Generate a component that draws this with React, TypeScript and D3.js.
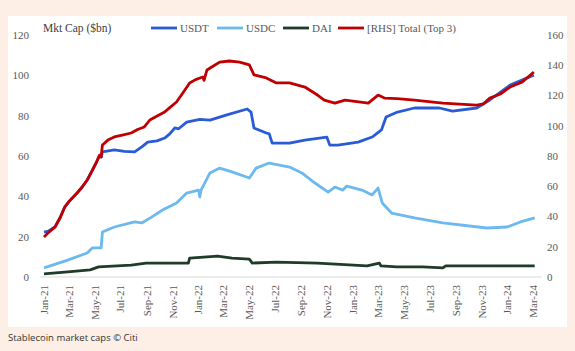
import React from "react";
import * as d3 from "d3";

type Pt = [string, number];

const usdt: Pt[] = [
  ["2021-01-01", 22.3], ["2021-01-12", 22.8], ["2021-01-27", 24.8], ["2021-02-08", 29.5],
  ["2021-02-19", 34.7], ["2021-03-01", 37.3], ["2021-03-20", 41.6], ["2021-04-01", 44.5],
  ["2021-04-13", 48.1], ["2021-04-25", 52.8], ["2021-05-04", 56.5], ["2021-05-12", 60],
  ["2021-05-16", 59.5], ["2021-05-19", 62.0], ["2021-06-16", 63.0], ["2021-07-10", 62.3],
  ["2021-08-03", 62.0], ["2021-08-20", 64.5], ["2021-09-03", 66.9], ["2021-09-25", 67.5],
  ["2021-10-13", 68.9], ["2021-10-25", 71], ["2021-11-06", 73.9], ["2021-11-15", 73.5],
  ["2021-12-04", 76.8], ["2022-01-04", 78.2], ["2022-01-28", 77.8], ["2022-03-07", 80.3],
  ["2022-04-26", 83.3], ["2022-05-05", 81.8], ["2022-05-12", 73.9], ["2022-06-10", 71.4],
  ["2022-06-17", 71.0], ["2022-06-24", 66.4], ["2022-08-04", 66.4], ["2022-09-09", 67.9],
  ["2022-10-31", 69.4], ["2022-11-07", 65.4], ["2022-11-26", 65.4], ["2023-01-13", 66.9],
  ["2023-02-15", 69.4], ["2023-03-09", 72.9], ["2023-03-20", 79.3], ["2023-04-16", 81.8],
  ["2023-05-26", 83.8], ["2023-07-24", 83.8], ["2023-08-24", 82.3], ["2023-10-20", 83.8],
  ["2023-11-20", 87.8], ["2024-01-07", 95.2], ["2024-03-03", 100.1],
];

const usdc: Pt[] = [
  ["2021-01-01", 4.5], ["2021-02-26", 8.4], ["2021-04-13", 11.9], ["2021-04-25", 14.4],
  ["2021-05-16", 14.4], ["2021-05-19", 22.3], ["2021-06-16", 24.8], ["2021-08-03", 27.3],
  ["2021-08-20", 26.8], ["2021-09-12", 29.7], ["2021-10-08", 33.2], ["2021-11-10", 36.7],
  ["2021-12-04", 41.6], ["2022-01-01", 43.1], ["2022-01-04", 39.7], ["2022-01-07", 43.1],
  ["2022-01-28", 51.6], ["2022-02-20", 54.0], ["2022-03-21", 52.1], ["2022-05-01", 49.1],
  ["2022-05-17", 54.0], ["2022-06-17", 56.5], ["2022-08-04", 54.5], ["2022-09-02", 51.6],
  ["2022-10-03", 46.6], ["2022-11-03", 42.1], ["2022-11-19", 44.6], ["2022-12-08", 43.1],
  ["2022-12-17", 45.1], ["2023-01-22", 43.1], ["2023-02-15", 40.7], ["2023-03-01", 44.1],
  ["2023-03-11", 36.7], ["2023-04-02", 31.7], ["2023-05-26", 29.3], ["2023-08-01", 26.8],
  ["2023-11-13", 24.3], ["2023-12-31", 24.8], ["2024-01-31", 27.3], ["2024-03-05", 29.3],
];

const dai: Pt[] = [
  ["2021-01-01", 1.5], ["2021-02-26", 2.5], ["2021-04-20", 3.5], ["2021-05-10", 5.0],
  ["2021-07-26", 5.9], ["2021-08-30", 6.9], ["2021-12-08", 6.9], ["2021-12-11", 9.4],
  ["2022-02-15", 10.4], ["2022-03-21", 9.4], ["2022-05-01", 8.9], ["2022-05-08", 6.9],
  ["2022-07-04", 7.4], ["2022-10-09", 6.9], ["2023-02-03", 5.5], ["2023-03-04", 6.9],
  ["2023-03-08", 5.5], ["2023-04-14", 5.0], ["2023-06-14", 5.0], ["2023-08-01", 4.5],
  ["2023-08-08", 5.5], ["2024-03-05", 5.5],
];

const total: Pt[] = [
  ["2021-01-01", 26.4], ["2021-01-12", 29.5], ["2021-01-27", 33.1], ["2021-02-08", 39],
  ["2021-02-19", 46.3], ["2021-03-01", 50], ["2021-03-20", 55.5], ["2021-04-01", 59.5],
  ["2021-04-13", 64.1], ["2021-04-25", 70.5], ["2021-05-04", 75.4], ["2021-05-12", 80.5],
  ["2021-05-16", 79.3], ["2021-05-19", 87.3], ["2021-06-01", 90.5], ["2021-06-16", 92.6],
  ["2021-07-05", 93.8], ["2021-07-26", 95.2], ["2021-08-10", 97.5], ["2021-08-26", 99.2],
  ["2021-09-08", 103.8], ["2021-09-22", 106], ["2021-10-13", 109.1], ["2021-10-25", 112],
  ["2021-11-10", 115.7], ["2021-11-22", 120.5], ["2021-12-11", 128.3], ["2021-12-25", 130.5],
  ["2022-01-11", 132.2], ["2022-01-14", 130], ["2022-01-21", 136.9], ["2022-02-05", 139.5],
  ["2022-02-20", 142.1], ["2022-03-15", 142.8], ["2022-04-08", 142.1], ["2022-05-01", 140.2],
  ["2022-05-12", 133.6], ["2022-06-10", 131.6], ["2022-07-04", 128.3], ["2022-08-04", 128.3],
  ["2022-09-09", 125.6], ["2022-10-09", 120.3], ["2022-10-25", 117], ["2022-11-19", 115.0],
  ["2022-12-13", 117.0], ["2023-01-10", 116], ["2023-02-06", 115.0], ["2023-03-01", 120.3],
  ["2023-03-16", 118.3], ["2023-04-15", 118], ["2023-05-26", 117.0], ["2023-08-01", 115.0],
  ["2023-10-20", 113.7], ["2023-11-05", 114.5], ["2023-11-20", 118.3], ["2023-12-15", 121],
  ["2024-01-07", 125.6], ["2024-02-05", 129], ["2024-03-03", 135.5],
];

const leftTicks = [0, 20, 40, 60, 80, 100, 120];
const rightTicks = [0, 20, 40, 60, 80, 100, 120, 140, 160];
const xTickLabels = [
  "Jan-21", "Mar-21", "May-21", "Jul-21", "Sep-21", "Nov-21",
  "Jan-22", "Mar-22", "May-22", "Jul-22", "Sep-22", "Nov-22",
  "Jan-23", "Mar-23", "May-23", "Jul-23", "Sep-23", "Nov-23",
  "Jan-24", "Mar-24",
];

const legendItems = [
  { label: "USDT", color: "#2a5bd7", x: 151 },
  { label: "USDC", color: "#6cb9f0", x: 217 },
  { label: "DAI", color: "#1f3b2a", x: 283 },
  { label: "[RHS] Total (Top 3)", color: "#c00000", x: 338 },
];

const parse = d3.timeParse("%Y-%m-%d");
const parseTick = d3.timeParse("%b-%y");

export default function App() {
  const W = 575, H = 351;
  const x = d3.scaleTime()
    .domain([new Date(2021, 0, 1), new Date(2024, 2, 1)])
    .range([44, 533]);
  const yL = d3.scaleLinear().domain([0, 120]).range([277, 35]);
  const yR = d3.scaleLinear().domain([0, 160]).range([277, 35]);

  const lineL = d3.line<Pt>().x(d => x(parse(d[0])!)).y(d => yL(d[1]));
  const lineR = d3.line<Pt>().x(d => x(parse(d[0])!)).y(d => yR(d[1]));

  const serifStyle = { fontFamily: '"Liberation Serif", "Times New Roman", Tinos, serif' };
  const tickColor = "#595959";

  return (
    <svg width={W} height={H} style={{ position: "absolute", left: 0, top: 0 }}>
      <rect x={0} y={0} width={W} height={H} fill="#fdefe5" />
      <rect x={8} y={16} width={559} height={311} fill="#ffffff" />

      <line x1={40} x2={541} y1={yL(0)} y2={yL(0)} stroke="#d9d9d9" strokeWidth={1} />

      {leftTicks.map(t => (
        <text key={"l" + t} x={29} y={yL(t)} dy="0.35em" textAnchor="end"
          style={serifStyle} fontSize={11} fill={tickColor}>{t}</text>
      ))}
      {rightTicks.map(t => (
        <text key={"r" + t} x={547} y={yR(t)} dy="0.35em" textAnchor="start"
          style={serifStyle} fontSize={11} fill={tickColor}>{t}</text>
      ))}
      {xTickLabels.map(lbl => {
        const xx = x(parseTick(lbl)!);
        return (
          <text key={lbl} transform={`translate(${xx},285) rotate(-90)`} dy="0.35em"
            textAnchor="end" style={serifStyle} fontSize={11} fill={tickColor}>{lbl}</text>
        );
      })}

      <path d={lineL(usdt) || ""} fill="none" stroke="#2a5bd7" strokeWidth={2.8} strokeLinejoin="round" />
      <path d={lineL(usdc) || ""} fill="none" stroke="#6cb9f0" strokeWidth={2.8} strokeLinejoin="round" />
      <path d={lineL(dai) || ""} fill="none" stroke="#1f3b2a" strokeWidth={2.8} strokeLinejoin="round" />
      <path d={lineR(total) || ""} fill="none" stroke="#c00000" strokeWidth={2.8} strokeLinejoin="round" />

      <text x={43} y={28} dy="0.35em" style={serifStyle} fontSize={11.5} fill="#404040">Mkt Cap ($bn)</text>
      {legendItems.map(it => (
        <g key={it.label}>
          <line x1={it.x} x2={it.x + 26} y1={28} y2={28} stroke={it.color} strokeWidth={2.8} />
          <text x={it.x + 29} y={28} dy="0.35em" style={serifStyle} fontSize={11} fill={tickColor}>{it.label}</text>
        </g>
      ))}

      <text x={8} y={341} fontFamily="'Open Sans', 'Noto Sans', sans-serif" fontSize={9.5} fill="#333333">
        Stablecoin market caps © Citi
      </text>
    </svg>
  );
}
